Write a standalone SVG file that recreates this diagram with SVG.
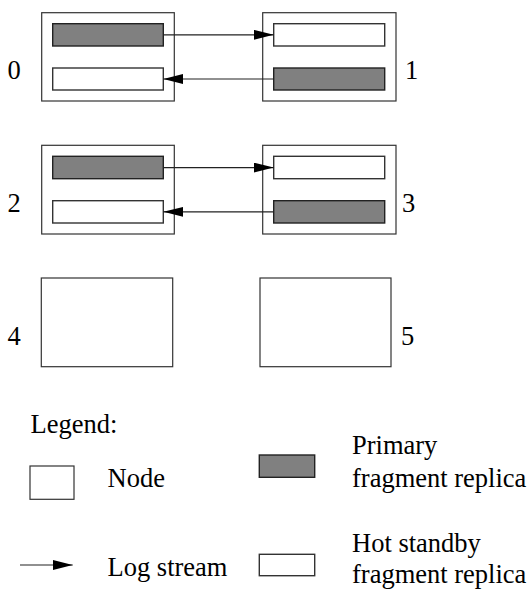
<svg xmlns="http://www.w3.org/2000/svg" width="529" height="593" viewBox="0 0 529 593" font-family="'Liberation Serif', 'Times New Roman', Times, serif" font-size="26.5">
  <style>
    .node { fill: #ffffff; stroke: #333333; stroke-width: 1.2; }
    .primary { fill: #808080; stroke: #222222; stroke-width: 1.4; }
    .standby { fill: #ffffff; stroke: #333333; stroke-width: 1.4; }
    .log { stroke: #222222; stroke-width: 1.2; fill: none; marker-end: url(#head); }
    .lbl { font-family: 'Liberation Serif', 'Times New Roman', Times, serif; font-size: 26.5px; fill: #000000; }
  </style>
  <defs>
    <marker id="head" markerUnits="userSpaceOnUse" markerWidth="22" markerHeight="12" refX="20" refY="5" orient="auto">
      <path d="M0,0 L20,5 L0,10 Z" fill="#000000"/>
    </marker>
  </defs>
  <rect width="529" height="593" fill="#ffffff"/>

  <!-- nodes -->
  <g id="node0">
    <rect class="node" x="41.7" y="12.7" width="132.6" height="88.3"/>
    <rect class="primary" x="52.7" y="23.7" width="110.6" height="22.3"/>
    <rect class="standby" x="52.7" y="68" width="110.6" height="22"/>
    <text class="lbl" x="7.5" y="79">0</text>
  </g>
  <g id="node1">
    <rect class="node" x="262.7" y="12.7" width="133.3" height="88.3"/>
    <rect class="standby" x="273.7" y="23.7" width="111" height="22.3"/>
    <rect class="primary" x="273.7" y="68" width="111" height="22"/>
    <text class="lbl" x="405" y="79">1</text>
  </g>
  <g id="node2">
    <rect class="node" x="41.7" y="145.3" width="132.6" height="88.7"/>
    <rect class="primary" x="52.7" y="156.3" width="110.6" height="22.4"/>
    <rect class="standby" x="52.7" y="200.7" width="110.6" height="22.3"/>
    <text class="lbl" x="7.5" y="212">2</text>
  </g>
  <g id="node3">
    <rect class="node" x="262.7" y="145.3" width="133.3" height="88.7"/>
    <rect class="standby" x="273.7" y="156.3" width="111" height="22.4"/>
    <rect class="primary" x="273.7" y="200.7" width="111" height="22.3"/>
    <text class="lbl" x="402" y="212">3</text>
  </g>
  <g id="node4">
    <rect class="node" x="41.3" y="278" width="131.4" height="88.7"/>
    <text class="lbl" x="7.5" y="345">4</text>
  </g>
  <g id="node5">
    <rect class="node" x="260" y="278" width="131" height="88.7"/>
    <text class="lbl" x="401" y="345">5</text>
  </g>

  <!-- log streams between replicas -->
  <g id="connectors">
    <line class="log" x1="163.3" y1="34.8" x2="273.7" y2="34.8"/>
    <line class="log" x1="273.7" y1="79" x2="163.3" y2="79"/>
    <line class="log" x1="163.3" y1="167.6" x2="273.7" y2="167.6"/>
    <line class="log" x1="273.7" y1="211.8" x2="163.3" y2="211.8"/>
  </g>

  <!-- legend -->
  <g id="legend">
    <text class="lbl" x="30.5" y="433">Legend:</text>
    <rect class="node" x="30" y="466" width="44" height="33.3"/>
    <text class="lbl" x="107.5" y="487">Node</text>
    <rect class="primary" x="259.3" y="455" width="55.4" height="22.3"/>
    <text class="lbl" x="352" y="454">Primary</text>
    <text class="lbl" x="352" y="487">fragment replica</text>
    <line class="log" x1="20" y1="565" x2="72.7" y2="565"/>
    <text class="lbl" x="107.5" y="576">Log stream</text>
    <rect class="standby" x="259.3" y="554.3" width="55.4" height="21.4"/>
    <text class="lbl" x="352" y="552">Hot standby</text>
    <text class="lbl" x="352" y="583">fragment replica</text>
  </g>
</svg>
